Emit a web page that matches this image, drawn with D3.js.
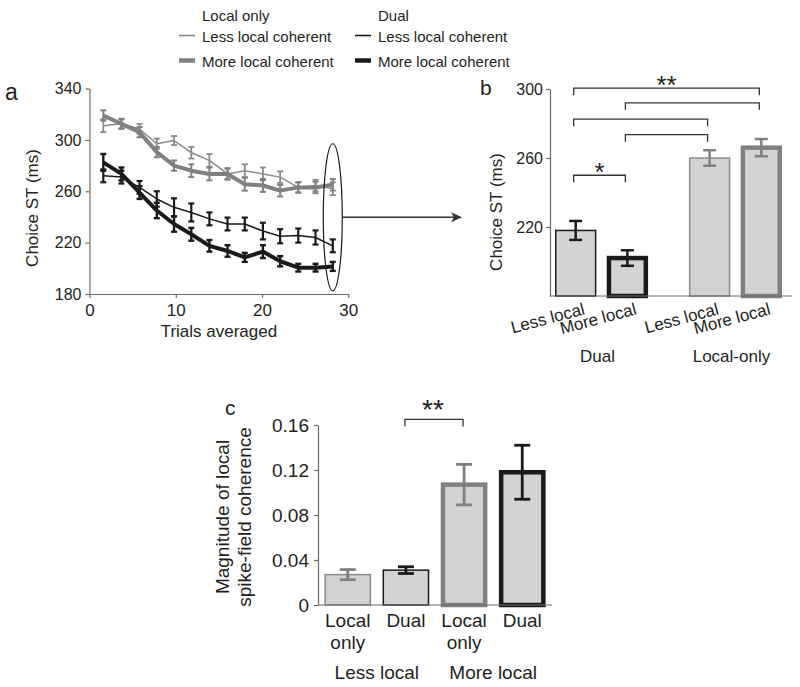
<!DOCTYPE html>
<html><head><meta charset="utf-8">
<script src="https://cdn.jsdelivr.net/npm/d3@7"></script>
<style>
body{margin:0;background:#fff;}
svg{display:block;font-family:"Liberation Sans",Arial,Helvetica,sans-serif;}
</style></head><body>
<svg id="chart" width="800" height="687"></svg>
<script>
// ---------- Panel a data ----------
const trials = [1.6, 3.7, 5.8, 7.8, 9.8, 11.8, 13.9, 16, 18, 20.1, 22.1, 24.2, 26.2, 28.2];
const localLess = [311, 312.5, 308.5, 297, 299.5, 290, 284, 273.5, 276, 273.5, 271, 263, 264.5, 262];
const localLessErr = [5, 4, 4, 4, 3.5, 4.5, 5, 4, 5, 5, 4.5, 4, 4.5, 5];
const localMore = [319, 312.5, 306, 290.5, 280, 276, 273.5, 273.5, 265.5, 264.5, 260.5, 263, 263, 265];
const localMoreErr = [4, 3.5, 4, 4, 4, 5, 5, 4.5, 5, 5, 4.5, 4, 4.5, 4.5];
const dualLess = [272, 271, 263, 254, 247.5, 243.5, 238.5, 234.5, 234.5, 229, 225, 225.5, 224, 217.5];
const dualLessErr = [5, 5, 5, 6, 7, 7, 5, 5, 5, 6.5, 5.5, 5.5, 5.5, 5];
const dualMore = [282.5, 273.5, 259, 245, 234.5, 226.5, 217.5, 213.5, 208.5, 213, 205.5, 200.5, 200.5, 201.5];
const dualMoreErr = [6.5, 5, 5, 6, 6, 5, 4.5, 4.5, 3.5, 5, 4, 3, 3, 3.5];
const aYTicks = [180, 220, 260, 300, 340];
const aXTicks = [0, 10, 20, 30];
const legendHeaders = ["Local only", "Dual"];
const legendLabels = ["Less local coherent", "More local coherent"];

// ---------- Panel b data ----------
const bCats = ["Less local", "More local", "Less local", "More local"];
const bGroups = ["Dual", "Local-only"];
const bValues = [218, 202, 260, 266];
const bErr = [5.5, 4.5, 4.5, 5];
const bYTicks = [220, 260, 300];
const bSig = [
  {from: 0, to: 3, level: 300.5, label: "**"},
  {from: 1, to: 3, level: 292, label: ""},
  {from: 0, to: 2, level: 282.5, label: ""},
  {from: 1, to: 2, level: 273.5, label: ""},
  {from: 0, to: 1, level: 250, label: "*"}
];

// ---------- Panel c data ----------
const cCatLines = [["Local", "only"], ["Dual"], ["Local", "only"], ["Dual"]];
const cGroups = ["Less local", "More local"];
const cValues = [0.027, 0.031, 0.107, 0.118];
const cErr = [0.0045, 0.003, 0.018, 0.024];
const cYTicks = [0, 0.04, 0.08, 0.12, 0.16];
const cSig = [{from: 1, to: 2, level: 0.165, label: "**"}];

// ---------- styles ----------
const TXT = "#231f20";
const GRAY = "#808080", GRAY_THIN = "#8a8a8a", BLACK = "#1a1a1a";
const AXIS = "#6b6b6b";
const FILL = "#d3d3d3";

const svg = d3.select("#chart");

function styleAxis(g, fs) {
  g.select(".domain").attr("stroke", AXIS).attr("stroke-width", 1.2);
  g.selectAll(".tick line").attr("stroke", AXIS).attr("stroke-width", 1.2);
  g.selectAll(".tick text").attr("fill", TXT).style("font-size", fs + "px")
    .style("font-family", '"Liberation Sans",Arial,sans-serif');
}

// ================= Panel a =================
const xA = d3.scaleLinear().domain([0, 30]).range([89.5, 348.3]);
const yA = d3.scaleLinear().domain([180, 340]).range([294, 88.5]);

const gA = svg.append("g");
gA.append("g").attr("transform", `translate(${xA(0)},0)`)
  .call(d3.axisLeft(yA).tickValues(aYTicks).tickSize(4).tickSizeOuter(0).tickPadding(4))
  .call(g => styleAxis(g, 16));
gA.append("g").attr("transform", `translate(0,${yA(180)})`)
  .call(d3.axisBottom(xA).tickValues(aXTicks).tickSize(4).tickSizeOuter(0).tickPadding(6))
  .call(g => styleAxis(g, 17));

gA.append("text").attr("transform", `translate(37.5,208) rotate(-90)`)
  .attr("text-anchor", "middle").attr("fill", TXT).style("font-size", "17px").text("Choice ST (ms)");
gA.append("text").attr("x", (xA(0) + xA(30)) / 2).attr("y", 336.5)
  .attr("text-anchor", "middle").attr("fill", TXT).style("font-size", "17px").text("Trials averaged");
gA.append("text").attr("x", 5).attr("y", 100).attr("fill", TXT).style("font-size", "23px").text("a");

const seriesA = [
  {values: localLess, err: localLessErr, color: GRAY_THIN, lw: 1.5, ew: 1.8},
  {values: localMore, err: localMoreErr, color: GRAY, lw: 4, ew: 2},
  {values: dualLess, err: dualLessErr, color: BLACK, lw: 1.5, ew: 2.2},
  {values: dualMore, err: dualMoreErr, color: BLACK, lw: 4, ew: 2.4}
];
const lineA = d3.line().x((d, i) => xA(trials[i])).y(d => yA(d));
seriesA.forEach(s => {
  const g = gA.append("g");
  g.append("path").datum(s.values).attr("d", lineA).attr("fill", "none")
    .attr("stroke", s.color).attr("stroke-width", s.lw).attr("stroke-linejoin", "round");
  const eb = g.selectAll("g.eb").data(s.values).join("g");
  eb.append("line").attr("x1", (d, i) => xA(trials[i])).attr("x2", (d, i) => xA(trials[i]))
    .attr("y1", (d, i) => yA(d - s.err[i])).attr("y2", (d, i) => yA(d + s.err[i]))
    .attr("stroke", s.color).attr("stroke-width", s.ew);
  [-1, 1].forEach(k => {
    eb.append("line").attr("x1", (d, i) => xA(trials[i]) - 3).attr("x2", (d, i) => xA(trials[i]) + 3)
      .attr("y1", (d, i) => yA(d + k * s.err[i])).attr("y2", (d, i) => yA(d + k * s.err[i]))
      .attr("stroke", s.color).attr("stroke-width", s.ew);
  });
});

// ellipse + arrow
const ex = xA(trials[trials.length - 1]);
const eTop = yA(297), eBot = yA(182.5);
gA.append("ellipse").attr("cx", ex).attr("cy", (eTop + eBot) / 2).attr("rx", 9.5).attr("ry", (eBot - eTop) / 2)
  .attr("fill", "none").attr("stroke", BLACK).attr("stroke-width", 1.2);

// ================= Panel b =================
const yB = d3.scaleLinear().domain([180, 300]).range([296, 89]);
const x0B = d3.scaleBand().domain(bGroups).range([555, 782]).paddingInner(0.305).paddingOuter(0);
const x1B = d3.scaleBand().domain([0, 1]).range([0, x0B.bandwidth()]).paddingInner(0.2).paddingOuter(0);
const bGroupOf = i => bGroups[Math.floor(i / 2)];
const bX = i => x0B(bGroupOf(i)) + x1B(i % 2);
const bC = i => bX(i) + x1B.bandwidth() / 2;
const bStyle = [
  {stroke: BLACK, sw: 1.5, err: BLACK},
  {stroke: BLACK, sw: 4.5, err: BLACK},
  {stroke: GRAY_THIN, sw: 1.5, err: GRAY},
  {stroke: GRAY, sw: 4.5, err: GRAY}
];

// arrow from ellipse to panel b
const arrowY = (eTop + eBot) / 2;
const arrowEnd = x0B.range()[0] - 93;
gA.append("line").attr("x1", ex + 9.5).attr("x2", arrowEnd - 8).attr("y1", arrowY).attr("y2", arrowY)
  .attr("stroke", "#333").attr("stroke-width", 1.3);
gA.append("path").attr("d", `M${arrowEnd},${arrowY} L${arrowEnd - 11},${arrowY - 5} L${arrowEnd - 8},${arrowY} L${arrowEnd - 11},${arrowY + 5} Z`)
  .attr("fill", "#333");

const gB = svg.append("g");
gB.selectAll("rect.bar").data(bValues).join("rect")
  .attr("x", (d, i) => bX(i) + bStyle[i].sw / 2).attr("width", (d, i) => x1B.bandwidth() - bStyle[i].sw)
  .attr("y", d => yB(d)).attr("height", d => yB(180) - yB(d))
  .attr("fill", FILL).attr("stroke", (d, i) => bStyle[i].stroke).attr("stroke-width", (d, i) => bStyle[i].sw);
gB.append("line").attr("x1", 550).attr("x2", 792).attr("y1", yB(180)).attr("y2", yB(180))
  .attr("stroke", AXIS).attr("stroke-width", 1.2);
gB.append("g").attr("transform", `translate(550,0)`)
  .call(d3.axisLeft(yB).tickValues(bYTicks).tickSize(4).tickSizeOuter(0).tickPadding(3))
  .call(g => styleAxis(g, 16));
// error bars
bValues.forEach((v, i) => {
  const c = bC(i), col = bStyle[i].err;
  gB.append("line").attr("x1", c).attr("x2", c).attr("y1", yB(v - bErr[i])).attr("y2", yB(v + bErr[i]))
    .attr("stroke", col).attr("stroke-width", 2.5);
  [-1, 1].forEach(k => gB.append("line").attr("x1", c - 6.5).attr("x2", c + 6.5)
    .attr("y1", yB(v + k * bErr[i])).attr("y2", yB(v + k * bErr[i])).attr("stroke", col).attr("stroke-width", 2.5));
});
// significance brackets
bSig.forEach(s => {
  const y = yB(s.level);
  gB.append("path").attr("d", `M${bC(s.from) - 2},${y + 7} V${y} H${bC(s.to) - 2} V${y + 7}`)
    .attr("fill", "none").attr("stroke", "#333").attr("stroke-width", 1.3);
  if (s.label) gB.append("text").attr("x", (bC(s.from) + bC(s.to)) / 2 - 2).attr("y", y + 6)
    .attr("text-anchor", "middle").attr("fill", TXT).style("font-size", "26px").text(s.label);
});
// x labels
gB.selectAll("text.xl").data(bCats).join("text")
  .attr("transform", (d, i) => `translate(${bC(i) + 10},314) rotate(-15)`)
  .attr("text-anchor", "end").attr("fill", TXT).style("font-size", "17px").text(d => d);
gB.selectAll("text.gl").data(bGroups).join("text")
  .attr("x", d => x0B(d) + x0B.bandwidth() / 2 - 4).attr("y", 361.5)
  .attr("text-anchor", "middle").attr("fill", TXT).style("font-size", "17px").text(d => d);
gB.append("text").attr("transform", `translate(502,212) rotate(-90)`)
  .attr("text-anchor", "middle").attr("fill", TXT).style("font-size", "17px").text("Choice ST (ms)");
gB.append("text").attr("x", 480).attr("y", 95).attr("fill", TXT).style("font-size", "21px").text("b");

// ================= Legend =================
const gL = svg.append("g");
const legX = [202, 378];
const legStyle = [[{c: GRAY_THIN, w: 1.6}, {c: GRAY, w: 4.5}], [{c: BLACK, w: 1.6}, {c: BLACK, w: 4.5}]];
legendHeaders.forEach((h, j) => {
  gL.append("text").attr("x", legX[j]).attr("y", 21).attr("fill", TXT).style("font-size", "15px").text(h);
  legendLabels.forEach((lab, k) => {
    const by = k === 0 ? 41.5 : 66.5;
    gL.append("line").attr("x1", legX[j] - 23).attr("x2", legX[j] - 7).attr("y1", by - 6).attr("y2", by - 6)
      .attr("stroke", legStyle[j][k].c).attr("stroke-width", legStyle[j][k].w);
    gL.append("text").attr("x", legX[j]).attr("y", by).attr("fill", TXT).style("font-size", "15px").text(lab);
  });
});

// ================= Panel c =================
const yC = d3.scaleLinear().domain([0, 0.16]).range([605, 425]);
const xC = d3.scaleBand().domain(d3.range(cValues.length)).range([318, 552]).paddingInner(0.197).paddingOuter(0.11);
const cCen = i => xC(i) + xC.bandwidth() / 2;
const cStyle = [
  {stroke: GRAY_THIN, sw: 1.5, err: GRAY},
  {stroke: BLACK, sw: 1.5, err: BLACK},
  {stroke: GRAY, sw: 4.5, err: GRAY},
  {stroke: BLACK, sw: 4.5, err: BLACK}
];
const gC = svg.append("g");
gC.selectAll("rect.bar").data(cValues).join("rect")
  .attr("x", (d, i) => xC(i) + cStyle[i].sw / 2).attr("width", (d, i) => xC.bandwidth() - cStyle[i].sw)
  .attr("y", d => yC(d)).attr("height", d => yC(0) - yC(d))
  .attr("fill", FILL).attr("stroke", (d, i) => cStyle[i].stroke).attr("stroke-width", (d, i) => cStyle[i].sw);
gC.append("line").attr("x1", 318).attr("x2", 552).attr("y1", yC(0)).attr("y2", yC(0))
  .attr("stroke", AXIS).attr("stroke-width", 1.2);
gC.append("g").attr("transform", `translate(318,0)`)
  .call(d3.axisLeft(yC).tickValues(cYTicks).tickSize(4).tickSizeOuter(0).tickPadding(5)
    .tickFormat(d => d === 0 ? "0" : d3.format(".2f")(d)))
  .call(g => styleAxis(g, 19));
cValues.forEach((v, i) => {
  const c = cCen(i), col = cStyle[i].err;
  gC.append("line").attr("x1", c).attr("x2", c).attr("y1", yC(v - cErr[i])).attr("y2", yC(v + cErr[i]))
    .attr("stroke", col).attr("stroke-width", 2.8);
  [-1, 1].forEach(k => gC.append("line").attr("x1", c - 8).attr("x2", c + 8)
    .attr("y1", yC(v + k * cErr[i])).attr("y2", yC(v + k * cErr[i])).attr("stroke", col).attr("stroke-width", 2.8));
});
cSig.forEach(s => {
  const y = yC(s.level);
  gC.append("path").attr("d", `M${cCen(s.from) - 1},${y + 7} V${y} H${cCen(s.to) - 1} V${y + 7}`)
    .attr("fill", "none").attr("stroke", "#333").attr("stroke-width", 1.3);
  gC.append("text").attr("x", (cCen(s.from) + cCen(s.to)) / 2 - 2).attr("y", y)
    .attr("text-anchor", "middle").attr("fill", TXT).style("font-size", "28px").text(s.label);
});
cCatLines.forEach((lines, i) => {
  lines.forEach((t, k) => gC.append("text").attr("x", cCen(i)).attr("y", 626.5 + k * 22)
    .attr("text-anchor", "middle").attr("fill", TXT).style("font-size", "19px").text(t));
});
cGroups.forEach((g, j) => {
  gC.append("text").attr("x", (cCen(2 * j) + cCen(2 * j + 1)) / 2).attr("y", 678.5)
    .attr("text-anchor", "middle").attr("fill", TXT).style("font-size", "19px").text(g);
});
gC.append("text").attr("transform", `translate(229,517) rotate(-90)`)
  .attr("text-anchor", "middle").attr("fill", TXT).style("font-size", "19px").text("Magnitude of local");
gC.append("text").attr("transform", `translate(250.5,517) rotate(-90)`)
  .attr("text-anchor", "middle").attr("fill", TXT).style("font-size", "19px").text("spike-field coherence");
gC.append("text").attr("x", 225).attr("y", 415).attr("fill", TXT).style("font-size", "21px").text("c");
</script>
</body></html>
